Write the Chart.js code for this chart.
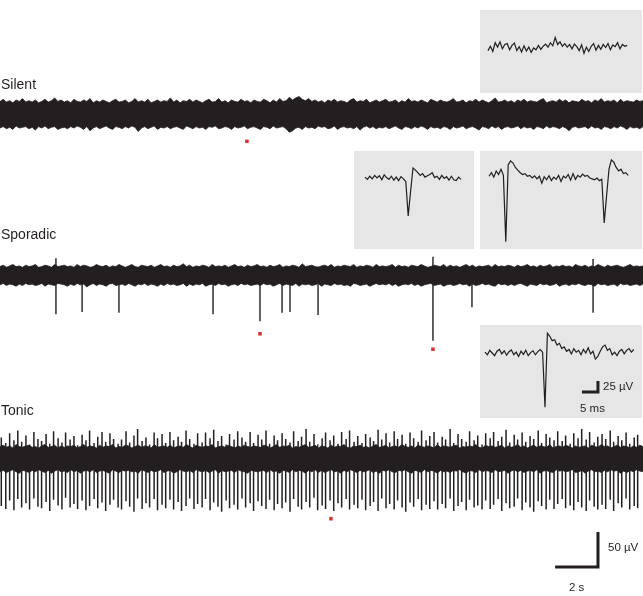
<!DOCTYPE html>
<html>
<head>
<meta charset="utf-8">
<script src="https://cdn.jsdelivr.net/npm/chart.js@4.4.1/dist/chart.umd.min.js"></script>
<style>
body{margin:0;background:#fff;font-family:"Liberation Sans",Arial,sans-serif;color:#231f20}
#fig{position:relative;width:643px;height:596px;overflow:hidden}
canvas{position:absolute}
.inset{background:#e6e6e6}
.lbl{position:absolute;font-size:14px;line-height:16px;white-space:nowrap}
.small{font-size:11.5px;line-height:13px}
</style>
</head>
<body>
<div id="fig">
  <canvas id="silent"></canvas>
  <canvas id="sporadic"></canvas>
  <canvas id="tonic"></canvas>
  <canvas id="insetA" class="inset"></canvas>
  <canvas id="insetB" class="inset"></canvas>
  <canvas id="insetC" class="inset"></canvas>
  <canvas id="insetD" class="inset"></canvas>
  <div class="lbl" style="left:1px;top:76px">Silent</div>
  <div class="lbl" style="left:1px;top:226px">Sporadic</div>
  <div class="lbl" style="left:1px;top:402px">Tonic</div>
  <div class="lbl small" style="left:603px;top:380px">25 µV</div>
  <div class="lbl small" style="left:580px;top:402px">5 ms</div>
  <div class="lbl small" style="left:608px;top:541px">50 µV</div>
  <div class="lbl small" style="left:569px;top:581px">2 s</div>
</div>
<script>
// ---- long recordings (time in s, voltage in µV) ----
// noise band: solid core level plus how far the noise pokes past it at each reading
const envStep = 0.15; // s between edge readings

const silentCore = [15, -16];
const silentUpEx = [3,6,2,4,1,5,3,7,2,4,2,5,1,3,6,2,4,8,3,5, 2,4,1,6,3,2,5,3,7,1,4,2,5,3,1,4,6,2,3,5,
  1,3,7,2,4,2,6,1,3,5,2,4,3,8,2,5,1,4,3,6, 2,5,3,1,4,6,2,3,7,2,4,1,5,3,2,6,3,4,1,5,
  3,2,6,4,1,5,2,7,3,4,9,5,8,10,6,4,7,3,5,2, 4,1,5,3,6,2,4,3,1,5,7,2,4,3,6,1,3,5,2,4,
  6,2,3,5,1,4,2,7,3,4,2,5,3,1,6,4,2,5,3,2, 4,7,2,3,5,1,4,3,6,2,5,3,1,4,8,2,3,5,2,4,
  1,5,3,6,2,4,3,2,5,7,1,3,4,2,6,3,5,1,4,3, 2,6,3,4,1,5,3,7,2,4,3,5,1,6,2,4,3,2,5,3, 4];
const silentLoEx = [4,2,5,3,6,1,4,3,2,5,3,7,2,4,1,5,3,2,6,4, 3,5,2,4,1,3,6,2,8,4,2,5,3,1,4,6,2,3,5,2,
  4,1,3,9,4,2,5,3,1,6,3,4,2,5,3,2,4,6,1,3, 5,2,4,3,6,2,3,1,5,4,2,3,6,2,4,3,1,5,3,2,
  4,6,2,3,5,1,4,3,2,5,10,8,4,3,6,2,4,3,5,1, 3,2,5,4,1,6,3,2,4,3,5,2,7,3,1,4,2,5,3,4,
  2,5,3,1,4,6,2,3,5,2,4,1,3,6,2,4,3,5,2,3, 6,2,4,3,1,5,3,2,4,7,2,3,5,1,4,2,6,3,2,4,
  3,1,5,2,4,3,6,2,3,5,1,4,2,3,5,2,4,8,3,2, 4,3,2,5,1,4,3,6,2,3,5,2,4,1,3,6,2,4,3,5, 2];

const sporCore = [10, -11];
const sporUpEx = [2,4,1,3,5,2,3,1,4,2,3,5,1,2,4,3,1,5,2,3, 4,2,3,1,5,2,4,3,1,2,5,3,2,4,1,3,2,5,3,1,
  3,5,2,1,4,3,2,4,1,3,5,2,3,1,4,2,3,6,2,4, 1,3,2,4,3,1,5,2,3,2,4,1,3,5,2,3,1,4,2,3,
  5,2,3,1,4,2,3,5,1,3,2,4,3,1,6,2,3,4,2,1, 3,4,2,5,1,3,2,4,3,2,5,1,3,2,4,3,1,5,2,3,
  2,3,5,1,4,2,3,1,4,3,2,5,3,1,2,4,3,2,5,1, 4,2,3,1,3,5,2,4,1,3,2,3,4,1,5,2,3,2,4,3,
  1,4,2,3,5,2,3,1,4,2,3,5,1,3,2,4,2,3,1,5, 3,2,4,1,3,2,5,3,1,4,2,3,4,2,1,3,5,2,3,2, 3];
const sporLoEx = [3,1,4,2,3,5,2,4,1,3,2,4,3,1,5,2,3,4,1,2, 3,5,2,4,1,3,2,6,3,1,4,2,3,5,2,1,4,3,2,4,
  1,3,5,2,3,1,4,2,3,5,2,4,1,3,2,4,3,1,5,2, 4,2,3,1,5,3,2,4,1,3,2,5,3,2,4,1,3,2,4,3,
  2,4,1,3,2,5,3,1,4,2,3,4,1,5,2,3,2,4,3,1, 5,2,3,4,1,3,2,4,3,5,1,2,4,3,2,5,3,1,3,2,
  3,1,4,2,5,3,2,3,1,4,2,5,3,2,1,4,3,2,5,3, 2,4,3,1,3,2,5,2,4,3,1,3,2,4,5,1,3,2,4,2,
  4,2,1,3,5,2,3,4,1,3,2,4,3,1,5,3,2,4,2,3, 1,3,4,2,3,5,1,3,2,4,3,2,5,1,3,2,4,3,2,4, 2];
const sporSpikeTimes = [2.61, 3.83, 5.55, 9.94, 12.13, 13.16, 13.53, 14.84, 20.20, 22.02, 27.67];
const sporSpikeHighs = [24, 12, 11, 12, 13, 11, 12, 12, 26, 12, 23];
const sporSpikeLows  = [-56, -53, -54, -56, -66, -54, -53, -57, -94, -46, -54];

const tonicCore = [14, -15];
const tonicUpEx = [3,5,2,4,1,6,3,2,4,5,2,3,1,4,6,2,3,5,1,4, 2,4,3,5,1,3,6,2,4,3,1,5,2,4,3,6,1,3,2,5,
  4,1,3,5,2,4,3,1,6,2,3,4,2,5,1,3,4,2,6,3, 1,5,3,2,4,3,6,1,3,4,2,5,3,1,4,2,5,3,2,4,
  3,2,5,4,1,3,6,2,4,3,5,1,3,2,4,6,2,3,5,1, 4,3,1,5,2,4,3,6,2,1,4,3,5,2,3,1,4,6,2,3,
  5,1,3,4,2,6,3,2,4,1,5,3,2,4,3,1,6,2,4,3, 2,4,5,1,3,2,4,3,6,2,1,5,3,4,2,3,5,1,4,2,
  3,6,2,4,1,3,5,2,4,3,2,6,1,3,4,2,5,3,1,4, 2,3,4,1,5,3,2,6,3,4,1,3,5,2,4,3,1,4,2,5, 3];
const tonicLoEx = [4,2,5,3,1,4,6,2,3,5,2,4,1,3,5,2,6,3,1,4, 3,5,1,4,2,6,3,2,4,1,5,3,2,4,6,1,3,5,2,3,
  2,4,3,6,1,3,5,2,4,3,1,5,3,2,6,4,1,3,4,2, 5,1,3,4,2,5,3,1,6,2,4,3,2,5,1,3,4,6,2,3,
  4,3,2,5,1,4,3,6,2,3,5,1,4,2,3,6,2,4,1,5, 2,5,3,1,4,3,6,2,4,1,3,5,2,4,3,1,5,3,6,2,
  3,1,4,5,2,3,1,4,6,2,3,5,1,4,2,3,6,2,4,3, 5,2,3,1,4,6,2,3,5,1,4,2,3,5,1,4,3,2,6,3,
  1,4,2,5,3,2,4,1,6,3,2,4,5,1,3,2,4,3,1,5, 4,2,6,3,1,4,3,5,2,4,1,3,2,6,3,5,2,4,1,3, 4];
const tonicSpikeTimes = [0.06,0.27,0.45,0.65,0.83,1.01,1.21,1.38,1.58,1.77,
  1.94,2.15,2.32,2.50,2.71,2.89,3.06,3.27,3.45,3.62,
  3.83,4.01,4.18,4.39,4.56,4.76,4.93,5.13,5.30,5.51,
  5.67,5.88,6.05,6.25,6.42,6.63,6.81,6.98,7.19,7.35,
  7.56,7.73,7.93,8.10,8.31,8.47,8.68,8.85,9.05,9.22,
  9.43,9.59,9.80,9.97,10.17,10.34,10.55,10.71,10.92,11.09,
  11.29,11.46,11.67,11.83,12.04,12.21,12.41,12.58,12.79,12.95,
  13.16,13.33,13.53,13.70,13.91,14.07,14.28,14.45,14.65,14.82,
  15.03,15.19,15.40,15.57,15.77,15.94,16.15,16.31,16.52,16.69,
  16.89,17.06,17.27,17.43,17.64,17.81,18.01,18.18,18.39,18.55,
  18.76,18.93,19.13,19.30,19.51,19.67,19.88,20.05,20.25,20.42,
  20.63,20.79,21.00,21.17,21.37,21.54,21.75,21.91,22.12,22.29,
  22.49,22.66,22.87,23.03,23.24,23.41,23.61,23.78,23.99,24.15,
  24.36,24.53,24.73,24.90,25.11,25.27,25.48,25.65,25.85,26.02,
  26.23,26.39,26.60,26.77,26.97,27.14,27.35,27.51,27.72,27.89,
  28.09,28.26,28.47,28.63,28.84,29.01,29.21,29.38,29.59,29.75];
const tonicSpikeHighs = [30,22,36,26,40,24,33,20,38,28, 25,35,21,39,29,23,37,27,32,19,
  34,26,40,22,31,38,24,36,28,21, 27,39,23,33,42,25,30,20,37,29,
  35,22,38,26,31,24,40,28,21,36, 23,37,29,41,25,32,20,35,27,39,
  30,24,38,22,34,27,40,21,33,26, 36,28,23,39,25,31,42,24,35,20,
  29,37,26,33,21,38,28,40,24,32, 22,35,30,25,41,27,36,23,39,28,
  34,21,37,29,24,40,26,32,38,23, 31,27,42,22,35,28,24,39,26,33,
  20,36,29,38,25,31,41,23,34,27, 37,24,32,28,40,22,35,30,26,39,
  25,33,21,36,29,42,27,38,23,31, 35,28,40,24,32,26,37,21,30,34];
const tonicSpikeLows = [-68,-72,-60,-74,-58,-70,-64,-73,-57,-69, -71,-62,-75,-59,-67,-73,-56,-70,-65,-72,
  -60,-74,-68,-58,-71,-63,-75,-66,-59,-70, -73,-61,-69,-76,-57,-72,-64,-70,-58,-74,
  -66,-71,-59,-73,-62,-75,-68,-57,-72,-65, -70,-58,-74,-63,-69,-76,-60,-71,-66,-73,
  -57,-70,-64,-75,-61,-68,-72,-59,-74,-65, -71,-63,-76,-58,-69,-73,-62,-70,-56,-74,
  -67,-72,-60,-75,-64,-70,-58,-73,-66,-71, -59,-74,-68,-62,-75,-57,-71,-65,-73,-60,
  -70,-76,-63,-69,-58,-74,-66,-72,-61,-73, -65,-71,-57,-75,-68,-62,-74,-59,-70,-67,
  -73,-60,-72,-66,-58,-75,-64,-71,-69,-57, -74,-63,-70,-76,-61,-68,-73,-59,-72,-65,
  -58,-71,-67,-74,-62,-70,-75,-60,-69,-73, -66,-72,-59,-75,-64,-70,-57,-73,-68,-71];

// red markers where the insets were taken
const silentMarkT = [11.52], silentMarkV = [-39];
const sporMarkT = [12.13, 20.20], sporMarkV = [-84, -106];
const tonicMarkT = [15.44], tonicMarkV = [-86];

// ---- insets (time in ms, voltage in µV) ----
const insetStep = 0.75;
const insetSilent = [-6,4,-8,12,2,14,-2,8,10,-4,6,11,-6,3,-9,5,-7,2,-10,0,-4,6,-3,4,9,2,12,5,24,8,
  14,4,10,2,8,-2,9,3,-6,7,-12,2,-8,4,10,-5,6,-3,8,1,10,-4,7,3,12,-2,8,4,6];
const insetSporA = [2,-3,4,-2,6,0,5,-4,7,1,-3,4,-5,2,-6,3,-2,-8,-86,-30,23,18,12,6,10,2,5,8,12,1,
  4,-3,6,-1,3,-5,4,-4,-6,2,-3];
const insetSporB = [4,12,2,16,8,20,6,-145,30,39,34,24,18,12,8,10,4,6,0,5,-2,4,-12,3,-4,5,-6,2,-3,6,
  -8,4,0,8,-5,10,-3,6,2,9,4,6,0,-2,-4,0,-6,-3,-102,-40,20,41,36,24,16,20,10,12,6];
const insetTonic = [2,-4,6,0,-6,4,8,-2,5,-5,3,7,-4,2,-8,4,-3,6,-6,1,5,-4,3,8,2,-123,45,38,28,30,
  18,22,10,14,4,8,-2,10,2,6,-4,8,0,12,-2,4,-14,-8,4,14,18,6,10,-4,2,-6,4,8,-2,6,10,2,8];

const INK = "#231f20";
const RED = "#d9322b";
const MAIN_PX_UV = 0.7;
const INS_PX_MS = 3.2, INS_PX_UV = 0.44;

function plot(id, box, xr, yr, datasets){
  const c = document.getElementById(id);
  c.width = box.w; c.height = box.h;
  c.style.left = box.x + "px"; c.style.top = box.y + "px";
  new Chart(c, {
    type: "line",
    data: { datasets: datasets },
    options: {
      responsive: false, animation: false, devicePixelRatio: 1,
      layout: { padding: 0, autoPadding: false },
      plugins: { legend: { display: false }, tooltip: { enabled: false } },
      scales: {
        x: { type: "linear", display: false, min: xr[0], max: xr[1] },
        y: { display: false, min: yr[0], max: yr[1] }
      },
      elements: { point: { radius: 0, hoverRadius: 0 }, line: { tension: 0 } }
    }
  });
}
// y range so that zero sits zeroOff px below the top of the box
function yRange(h, zeroOff, ppu){ return [-(h - zeroOff) / ppu, zeroOff / ppu]; }

function band(core, upEx, loEx){
  return [
    { data: upEx.map((v,i) => ({x: i*envStep, y: core[0] + v})), borderColor: INK, backgroundColor: INK, borderWidth: 0.8, fill: "+1" },
    { data: loEx.map((v,i) => ({x: i*envStep, y: core[1] - v})), borderColor: INK, borderWidth: 0.8, fill: false }
  ];
}
function spikes(times, highs, lows, w){
  const pts = [];
  times.forEach((t,i) => { pts.push({x:t, y:highs[i]}, {x:t, y:lows[i]}, {x:t, y:null}); });
  return { data: pts, borderColor: INK, borderWidth: w, spanGaps: false, fill: false };
}
function marks(times, vals){
  return { data: times.map((t,i) => ({x:t, y:vals[i]})), showLine: false, pointStyle: "rect",
    pointRadius: 2.5, pointHoverRadius: 2.5, pointBackgroundColor: RED, pointBorderWidth: 0, borderColor: RED };
}
function trace(vals){
  return { data: vals.map((v,i) => ({x: i*insetStep, y: v})), borderColor: INK, borderWidth: 1.2, fill: false };
}

// main traces
const boxSil = {x:0, y:88, w:643, h:64};
plot("silent", boxSil, [0,30], yRange(boxSil.h, 26, MAIN_PX_UV),
  [...band(silentCore, silentUpEx, silentLoEx), marks(silentMarkT, silentMarkV)]);

const boxSpo = {x:0, y:250, w:643, h:110};
plot("sporadic", boxSpo, [0,30], yRange(boxSpo.h, 25, MAIN_PX_UV),
  [...band(sporCore, sporUpEx, sporLoEx), spikes(sporSpikeTimes, sporSpikeHighs, sporSpikeLows, 1.4),
   marks(sporMarkT, sporMarkV)]);

// main scale bar: 2 s by 50 µV, corner at 27.9 s
const barS = 2, barUV = 50, barT = 27.9, barV = -155;
const boxTon = {x:0, y:420, w:643, h:176};
plot("tonic", boxTon, [0,30], yRange(boxTon.h, 38.5, MAIN_PX_UV),
  [...band(tonicCore, tonicUpEx, tonicLoEx), spikes(tonicSpikeTimes, tonicSpikeHighs, tonicSpikeLows, 1.5),
   marks(tonicMarkT, tonicMarkV),
   { data: [{x: barT - barS, y: barV}, {x: barT, y: barV}, {x: barT, y: barV + barUV}],
     borderColor: INK, borderWidth: 3, borderJoinStyle: "miter", fill: false }]);

// insets
const boxA = {x:480, y:10, w:162, h:83};
plot("insetA", boxA, [-8/INS_PX_MS, (boxA.w-8)/INS_PX_MS], yRange(boxA.h, 38, INS_PX_UV), [trace(insetSilent)]);
const boxB = {x:354, y:151, w:120, h:98};
plot("insetB", boxB, [-11/INS_PX_MS, (boxB.w-11)/INS_PX_MS], yRange(boxB.h, 27, INS_PX_UV), [trace(insetSporA)]);
const boxC = {x:480, y:151, w:162, h:98};
plot("insetC", boxC, [-9/INS_PX_MS, (boxC.w-9)/INS_PX_MS], yRange(boxC.h, 27, INS_PX_UV), [trace(insetSporB)]);

// inset scale bar: 5 ms by 25 µV
const iBarMs = 5, iBarUV = 25, iBarT = 35.3, iBarV = -88.6;
const boxD = {x:480, y:325, w:162, h:93};
plot("insetD", boxD, [-5/INS_PX_MS, (boxD.w-5)/INS_PX_MS], yRange(boxD.h, 28, INS_PX_UV),
  [trace(insetTonic),
   { data: [{x: iBarT - iBarMs, y: iBarV}, {x: iBarT, y: iBarV}, {x: iBarT, y: iBarV + iBarUV}],
     borderColor: INK, borderWidth: 3, borderJoinStyle: "miter", fill: false }]);
</script>
</body>
</html>
